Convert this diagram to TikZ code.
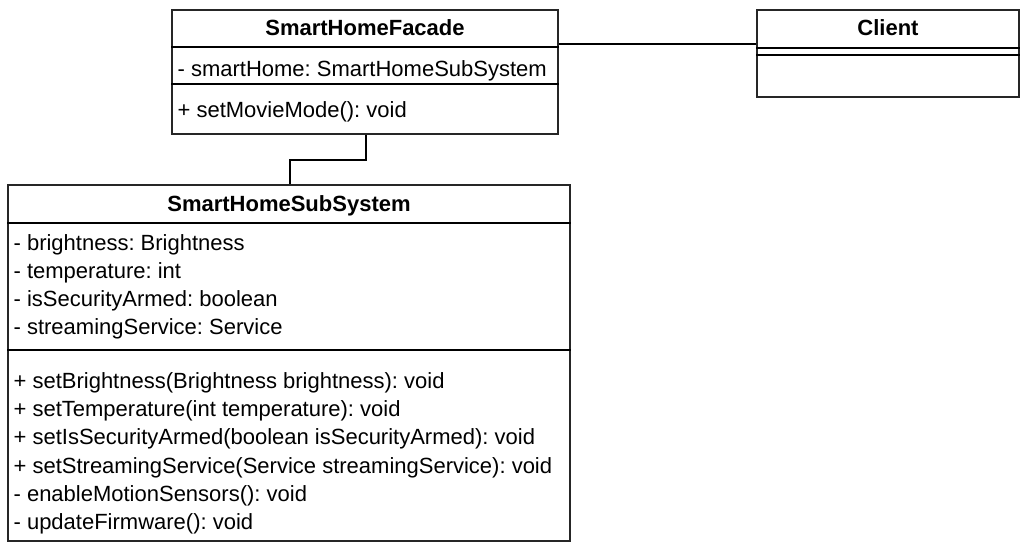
\documentclass[tikz,border=0pt]{standalone}
\usepackage{fontspec}
\setmainfont{Liberation Sans}
\usepackage{tikz}
\frenchspacing
\tikzset{every picture/.style={line width=1.2pt}}
\tikzset{classbox/.style={draw=black!85, rectangle, inner sep=0pt},
  classname/.style={inner sep=0pt, text height=16pt, text depth=4.5pt, font=\fontsize{22}{26}\selectfont\bfseries},
  member/.style={anchor=west, inner sep=0pt, text height=16pt, text depth=4.5pt, font=\fontsize{22}{26}\selectfont}}

\begin{document}
\begin{tikzpicture}[x=1pt,y=1pt,yscale=-1,xscale=1]
    \useasboundingbox (0,0) rectangle (1026,546);
    \node[classbox, minimum width=386pt, minimum height=124pt] (facade) at (365,72) {};
    \node[classbox, minimum width=262pt, minimum height=87pt] (client) at (888,53.5) {};
    \node[classbox, minimum width=562pt, minimum height=356pt] (sub) at (289,363) {};
    \draw (facade.west |- 0,47) -- (facade.east |- 0,47) ;
    \draw (facade.west |- 0,84) -- (facade.east |- 0,84) ;
    \draw (client.west |- 0,48) -- (client.east |- 0,48) ;
    \draw (client.west |- 0,55) -- (client.east |- 0,55) ;
    \draw (sub.west |- 0,223) -- (sub.east |- 0,223) ;
    \draw (sub.west |- 0,350) -- (sub.east |- 0,350) ;
    \draw (facade.east |- 0,44) -- (client.west |- 0,44) ;
    \draw (facade.south -| 366,0) |- (290,160) -- (sub.north -| 290,0) ;
    \node[classname] (facadeName) at (365,30) {SmartHomeFacade};
    \node[classname] (clientName) at (888,30) {Client};
    \node[classname] (subName) at (289,206) {SmartHomeSubSystem};
    \node[member] (fAttr) at (177,71) {- smartHome: SmartHomeSubSystem};
    \node[member] (fOp) at (177,112) {+ setMovieMode(): void};
    \node[member] (sAttrA) at (13,245) {- brightness: Brightness};
    \node[member] (sAttrB) at (13,273) {- temperature: int};
    \node[member] (sAttrC) at (13,301) {- isSecurityArmed: boolean};
    \node[member] (sAttrD) at (13,329) {- streamingService: Service};
    \node[member] (sOpA) at (13,383) {+ setBrightness(Brightness brightness): void};
    \node[member] (sOpB) at (13,411) {+ setTemperature(int temperature): void};
    \node[member] (sOpC) at (13,439) {+ setIsSecurityArmed(boolean isSecurityArmed): void};
    \node[member] (sOpD) at (13,468) {+ setStreamingService(Service streamingService): void};
    \node[member] (sOpE) at (13,496) {- enableMotionSensors(): void};
    \node[member] (sOpF) at (13,524) {- updateFirmware(): void};
\end{tikzpicture}
\end{document}
